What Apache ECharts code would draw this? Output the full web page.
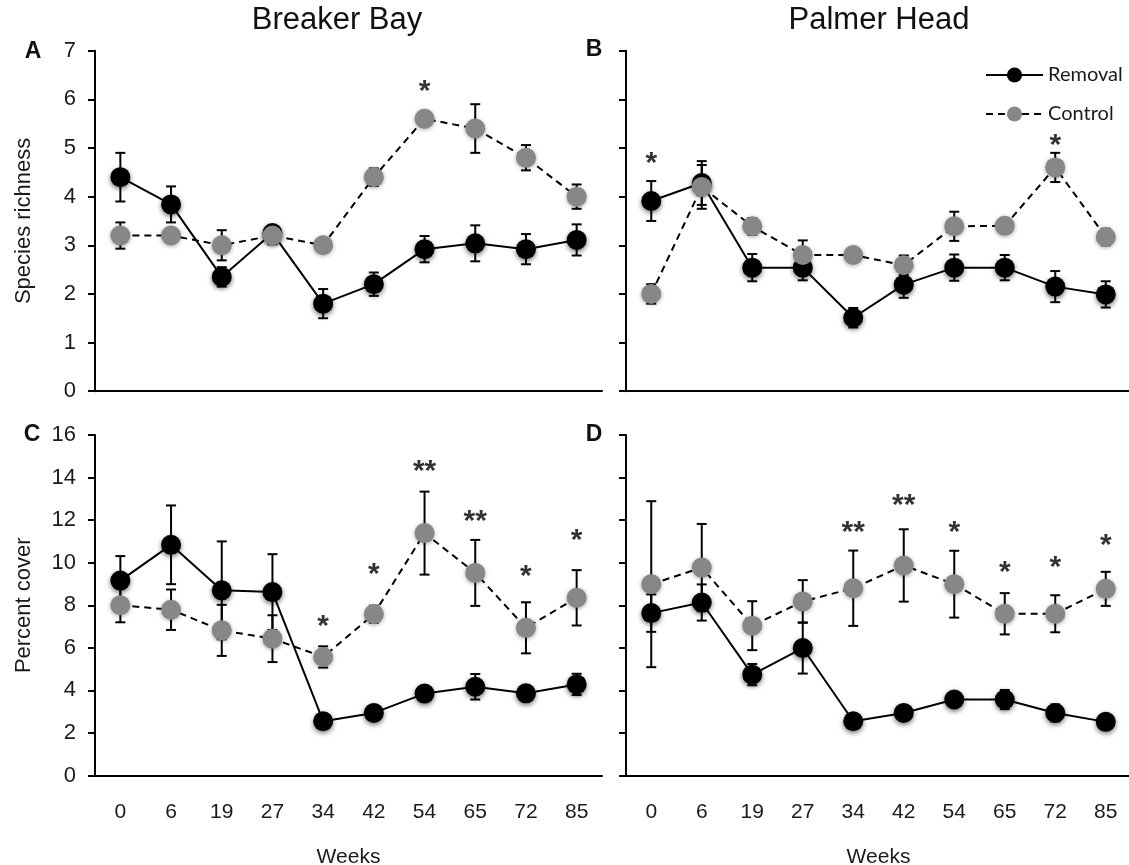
<!DOCTYPE html>
<html>
<head>
<meta charset="utf-8">
<script src="https://cdn.jsdelivr.net/npm/echarts@6/dist/echarts.min.js"></script>
<style>
  html, body { margin: 0; padding: 0; background: #fff; }
  #mychart { width: 1129px; height: 865px; }
</style>
</head>
<body>
<div id="mychart"></div>
<script>
// 数据
var weeks = ['0', '6', '19', '27', '34', '42', '54', '65', '72', '85']

// A: Breaker Bay, species richness
var remA = [4.4, 3.84, 2.35, 3.25, 1.8, 2.2, 2.92, 3.04, 2.92, 3.11]
var remA_err = [0.5, 0.37, 0.2, 0.12, 0.3, 0.24, 0.27, 0.37, 0.31, 0.32]
var ctlA = [3.2, 3.2, 3.0, 3.2, 3.0, 4.4, 5.6, 5.4, 4.8, 4.0]
var ctlA_err = [0.27, 0, 0.31, 0.18, 0, 0.18, 0.15, 0.5, 0.26, 0.25]
var sigA = ['', '', '', '', '', '', '*', '', '', '']
var sigA_y = [0, 0, 0, 0, 0, 0, 6.33, 0, 0, 0]

// B: Palmer Head, species richness
var remB = [3.91, 4.28, 2.54, 2.54, 1.51, 2.19, 2.54, 2.54, 2.15, 1.99]
var remB_err = [0.41, 0.45, 0.28, 0.26, 0.2, 0.27, 0.27, 0.26, 0.32, 0.27]
var ctlB = [2.0, 4.2, 3.39, 2.8, 2.8, 2.59, 3.39, 3.4, 4.6, 3.17]
var ctlB_err = [0.2, 0.45, 0.17, 0.3, 0.1, 0.2, 0.3, 0, 0.3, 0.17]
var sigB = ['*', '', '', '', '', '', '', '', '*', '']
var sigB_y = [4.85, 0, 0, 0, 0, 0, 0, 0, 5.22, 0]

// C: Breaker Bay, percent cover
var remC = [9.16, 10.84, 8.7, 8.62, 2.55, 2.94, 3.85, 4.17, 3.86, 4.28]
var remC_err = [1.15, 1.85, 2.3, 1.78, 0.3, 0.25, 0.3, 0.6, 0.35, 0.5]
var ctlC = [8.0, 7.79, 6.82, 6.43, 5.57, 7.58, 11.39, 9.52, 6.94, 8.35]
var ctlC_err = [0.8, 0.95, 1.2, 1.1, 0.5, 0.4, 1.95, 1.55, 1.2, 1.3]
var sigC = ['', '', '', '', '*', '*', '**', '**', '*', '*']
var sigC_y = [0, 0, 0, 0, 7.37, 9.8, 14.67, 12.3, 9.73, 11.4]

// D: Palmer Head, percent cover
var remD = [7.63, 8.13, 4.74, 5.99, 2.55, 2.94, 3.57, 3.57, 2.94, 2.52]
var remD_err = [0.88, 0.85, 0.5, 1.2, 0.3, 0.25, 0.35, 0.45, 0.4, 0.2]
var ctlD = [8.99, 9.77, 7.04, 8.18, 8.8, 9.87, 8.99, 7.6, 7.6, 8.77]
var ctlD_err = [3.9, 2.05, 1.15, 1.0, 1.77, 1.7, 1.57, 0.97, 0.87, 0.8]
var sigD = ['', '', '', '', '**', '**', '*', '*', '*', '*']
var sigD_y = [0, 0, 0, 0, 11.78, 13.03, 11.78, 9.9, 10.13, 11.15]

var FONT = '"Liberation Sans", Arial, sans-serif'

var myChart = echarts.init(document.getElementById('mychart'))

function errData(vals, errs) {
  return vals.map(function (v, i) { return [i, v - errs[i], v + errs[i]] })
}

// 误差线
function renderErr(params, api) {
  var lo = api.value(1), hi = api.value(2)
  if (hi - lo < 0.001) return
  var p1 = api.coord([api.value(0), lo])
  var p2 = api.coord([api.value(0), hi])
  var st = { stroke: '#000', lineWidth: 2 }
  var w = 5
  return {
    type: 'group',
    children: [
      { type: 'line', shape: { x1: p1[0], y1: p1[1], x2: p2[0], y2: p2[1] }, style: st },
      { type: 'line', shape: { x1: p1[0] - w, y1: p1[1], x2: p1[0] + w, y2: p1[1] }, style: st },
      { type: 'line', shape: { x1: p2[0] - w, y1: p2[1], x2: p2[0] + w, y2: p2[1] }, style: st }
    ]
  }
}

function sigData(txt, ys) {
  var out = []
  txt.forEach(function (t, i) { if (t) out.push({ value: [i, ys[i]], name: t }) })
  return out
}

var grids = [
  { left: 95, top: 50.7, width: 507, height: 340.5, outerBoundsMode: 'none' },
  { left: 626, top: 50.7, width: 505, height: 340.5, outerBoundsMode: 'none' },
  { left: 95, top: 435, width: 507, height: 340.5, outerBoundsMode: 'none' },
  { left: 626, top: 435, width: 505, height: 340.5, outerBoundsMode: 'none' }
]

var panels = [
  { rem: remA, remErr: remA_err, ctl: ctlA, ctlErr: ctlA_err, sig: sigA, sigY: sigA_y },
  { rem: remB, remErr: remB_err, ctl: ctlB, ctlErr: ctlB_err, sig: sigB, sigY: sigB_y },
  { rem: remC, remErr: remC_err, ctl: ctlC, ctlErr: ctlC_err, sig: sigC, sigY: sigC_y },
  { rem: remD, remErr: remD_err, ctl: ctlD, ctlErr: ctlD_err, sig: sigD, sigY: sigD_y }
]

var axisLine = { lineStyle: { color: '#000', width: 2 } }
var axisTick = { length: 7, lineStyle: { color: '#000', width: 2 } }

var xAxes = [], yAxes = [], series = []
panels.forEach(function (p, k) {
  var bottomRow = k >= 2
  var leftCol = k % 2 === 0
  xAxes.push({
    type: 'category', gridIndex: k, data: weeks, boundaryGap: true,
    axisLine: axisLine, axisTick: axisTick,
    axisLabel: { show: bottomRow, fontSize: 21, color: '#1a1a1a', fontFamily: FONT, margin: 26 },
    name: bottomRow ? 'Weeks' : '', nameLocation: 'middle', nameGap: 71,
    nameTextStyle: { fontSize: 21, color: '#1a1a1a', fontFamily: FONT }
  })
  yAxes.push({
    type: 'value', gridIndex: k,
    min: 0, max: bottomRow ? 16 : 7, interval: bottomRow ? 2 : 1,
    splitLine: { show: false },
    axisLine: Object.assign({ show: true }, axisLine), axisTick: Object.assign({ show: true }, axisTick),
    axisLabel: { show: leftCol, fontSize: 22, color: '#1a1a1a', fontFamily: FONT, margin: 19 },
    name: leftCol ? (bottomRow ? 'Percent cover' : 'Species richness') : '',
    nameLocation: 'middle', nameGap: 60, nameRotate: 90,
    nameTextStyle: { fontSize: 22, color: '#1a1a1a', fontFamily: FONT }
  })
  series.push({
    type: 'custom', xAxisIndex: k, yAxisIndex: k, z: 1,
    renderItem: renderErr, data: errData(p.ctl, p.ctlErr), silent: true
  })
  series.push({
    type: 'custom', xAxisIndex: k, yAxisIndex: k, z: 1,
    renderItem: renderErr, data: errData(p.rem, p.remErr), silent: true
  })
  series.push({
    name: 'Removal', type: 'line', xAxisIndex: k, yAxisIndex: k, z: 3,
    data: p.rem, symbol: 'circle', symbolSize: 20,
    itemStyle: { color: '#000', shadowBlur: 5, shadowColor: 'rgba(0,0,0,0.55)', shadowOffsetY: 2 },
    lineStyle: { color: '#000', width: 2 }
  })
  series.push({
    name: 'Control', type: 'line', xAxisIndex: k, yAxisIndex: k, z: 4,
    data: p.ctl, symbol: 'circle', symbolSize: 20,
    itemStyle: { color: '#878787', shadowBlur: 4, shadowColor: 'rgba(0,0,0,0.35)', shadowOffsetY: 1 },
    lineStyle: { color: '#000', width: 2, type: [7, 5] }
  })
  series.push({
    type: 'scatter', xAxisIndex: k, yAxisIndex: k, z: 5, silent: true,
    symbolSize: 0, data: sigData(p.sig, p.sigY),
    label: {
      show: true, position: 'inside', formatter: '{b}', offset: [0, 8],
      fontSize: 30, fontWeight: 'bold', color: '#000', fontFamily: FONT
    }
  })
})

function txt(t, x, y, size, bold) {
  return {
    type: 'text', x: x, y: y, silent: true,
    style: {
      text: t, fill: '#111', align: 'center', verticalAlign: 'middle',
      font: (bold ? 'bold ' : '') + size + 'px ' + FONT
    }
  }
}

var option = {
  animation: false,
  grid: grids,
  xAxis: xAxes,
  yAxis: yAxes,
  legend: {
    data: ['Removal', 'Control'], orient: 'vertical', left: 980, top: 60,
    itemWidth: 57, itemHeight: 19, itemGap: 19, selectedMode: false,
    textStyle: { fontSize: 20, color: '#1a1a1a', fontFamily: 'Lato, "Open Sans", sans-serif' }
  },
  graphic: [
    txt('Breaker Bay', 337, 20, 31, false),
    txt('Palmer Head', 879, 20, 31, false),
    txt('A', 33, 52, 23, true),
    txt('B', 594, 50, 23, true),
    txt('C', 32, 435, 23, true),
    txt('D', 594, 435, 23, true)
  ],
  series: series
}

myChart.setOption(option)
</script>
</body>
</html>
